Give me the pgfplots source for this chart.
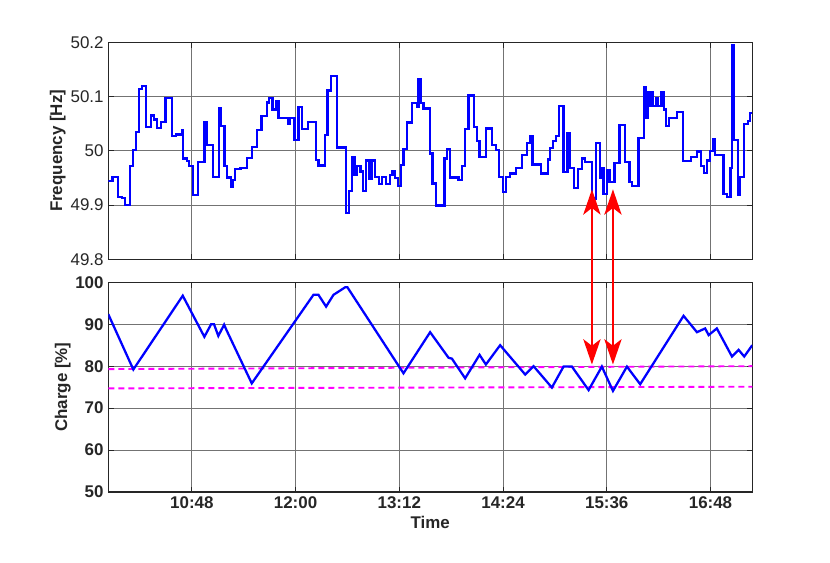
\documentclass[border=0pt]{standalone}
\usepackage{fontspec}
\setmainfont{Liberation Sans}
\usepackage{pgfplots}
\pgfplotsset{compat=1.18}
\usetikzlibrary{arrows.meta}

\definecolor{axgray}{gray}{0.15}
\definecolor{lineblue}{RGB}{0,0,255}
\definecolor{limitmag}{RGB}{255,0,255}
\definecolor{arrowred}{RGB}{255,0,0}
\newcommand\figfont{\fontsize{12.7}{15}\selectfont}

% frequency, minutes after midnight vs Hz
\pgfplotstableread{
t f
590.0 49.945
592.9 49.952
596.6 49.915
599.4 49.913
601.7 49.900
605.2 49.972
607.2 50.001
609.3 50.035
611.2 50.114
613.3 50.120
616.0 50.044
619.5 50.065
621.8 50.058
623.7 50.042
626.7 50.053
629.7 50.098
634.3 50.028
637.1 50.030
641.3 50.039
642.0 49.986
644.7 49.981
645.9 49.972
648.7 49.918
652.4 49.980
656.8 50.053
658.2 50.011
662.5 49.952
666.7 50.078
668.3 50.046
670.6 49.972
672.5 49.951
675.0 49.934
676.2 49.946
678.0 49.966
681.8 49.968
686.4 49.987
689.6 50.007
693.1 50.039
696.3 50.064
700.1 50.089
701.7 50.098
704.0 50.076
706.3 50.092
708.2 50.060
714.6 50.050
716.3 50.060
719.3 50.020
722.0 50.081
724.4 50.040
728.5 50.053
734.3 49.983
735.9 49.973
740.6 50.029
742.2 50.111
744.7 50.138
748.7 50.006
755.1 49.885
757.2 49.926
759.1 49.988
760.9 49.955
762.8 49.972
765.1 49.962
766.7 49.926
769.0 49.982
771.3 49.949
773.0 49.982
775.3 49.952
778.0 49.939
779.9 49.952
782.7 49.939
785.7 49.955
787.3 49.963
789.1 49.950
791.0 49.935
793.1 49.974
794.9 50.004
797.2 50.052
800.7 50.088
804.2 50.081
805.3 50.132
807.2 50.088
808.8 50.078
813.4 49.995
815.1 49.940
817.4 49.899
823.4 49.986
825.0 50.003
827.4 49.951
833.1 49.946
835.5 49.972
837.8 50.040
840.1 50.102
844.0 50.044
845.9 50.018
847.7 49.989
852.1 50.041
856.3 50.011
859.3 50.001
861.4 49.952
863.9 49.924
866.2 49.952
869.0 49.958
872.9 49.969
877.1 49.993
880.6 50.014
882.9 50.027
884.5 49.975
890.5 49.958
895.2 49.984
896.8 50.005
898.6 50.018
900.9 50.027
902.6 50.082
906.0 49.961
908.8 50.033
910.7 49.969
913.4 49.932
915.8 49.966
918.8 49.986
921.1 49.980
925.7 49.912
928.7 50.014
931.5 49.950
932.6 49.969
933.8 49.920
936.1 49.964
937.9 49.943
941.4 49.977
944.9 50.047
948.8 49.980
951.8 49.943
953.4 49.935
958.1 50.023
962.0 50.118
963.4 50.060
964.6 50.109
965.8 50.083
966.5 50.109
968.1 50.082
970.2 50.098
971.5 50.083
973.9 50.108
975.5 50.076
977.3 50.046
979.0 50.060
984.7 50.072
988.7 49.981
994.7 49.989
998.6 49.999
1001.6 49.972
1003.3 49.959
1005.6 49.982
1007.9 50.000
1009.5 50.021
1011.3 49.992
1017.1 49.920
1019.4 49.915
1021.8 49.968
1022.9 50.195
1024.5 50.020
1026.9 49.918
1028.7 49.952
1031.0 50.050
1034.0 50.055
1035.6 50.070
1037.0 50.070
}\freqdata

% state of charge, turning points
\pgfplotstableread{
t c
590.0 92.4
607.4 79.2
641.7 96.8
656.7 87.0
661.4 90.0
663.4 90.0
666.4 87.2
670.4 89.9
672.2 88.5
689.6 75.9
732.4 97.0
735.9 97.0
741.2 94.2
746.3 97.0
754.4 98.8
756.0 98.8
794.9 78.3
813.4 88.1
826.2 82.0
828.5 81.8
837.7 77.1
847.7 82.7
852.1 80.4
862.0 85.0
879.4 78.0
885.2 80.0
897.9 74.9
906.0 79.9
911.8 79.9
923.4 74.3
932.6 79.9
940.3 74.1
950.0 79.9
959.2 75.7
989.3 92.0
998.6 88.1
1004.3 89.0
1006.7 87.4
1012.4 89.0
1022.9 82.3
1027.5 83.9
1031.4 82.3
1037.0 85.0
}\chargedata

\pgfplotsset{
  panel/.style={
    scale only axis,
    width=483pt,
    xmin=590, xmax=1037,
    xtick={648,720,792,864,936,1008},
    grid=major,
    major grid style={black!55, line width=0.6pt},
    axis line style={axgray, line width=0.8pt},
    tick style={axgray, line width=0.6pt},
    tick align=inside,
    major tick length=4pt,
    every tick label/.append style={text=axgray},
    /pgf/number format/assume math mode=true,
    scaled y ticks=false,
    label style={font=\figfont\bfseries, text=axgray},
  },
}

\begin{document}
\begin{tikzpicture}
\path[use as bounding box] (0,0) rectangle (622.5pt,421.5pt);

\begin{axis}[panel,
  at={(81.2pt,227.0pt)}, anchor=south west,
  height=162.75pt,
  ymin=49.8, ymax=50.2,
  ytick={49.8,49.9,50,50.1,50.2},
  xticklabels={},
  tick label style={font=\figfont},
  ylabel={Frequency [Hz]},
  ylabel style={at={(axis description cs:-0.0785,0.5)}, anchor=center},
]
\addplot[lineblue, line width=1.7pt, const plot] table[x=t, y=f] {\freqdata};
\coordinate (a1t) at (axis cs:925.7,49.929);
\coordinate (a2t) at (axis cs:940.3,49.929);
\end{axis}

\begin{axis}[panel,
  at={(81.2pt,52.5pt)}, anchor=south west,
  height=157.3pt,
  ymin=50, ymax=100,
  ytick={50,60,70,80,90,100},
  xticklabels={10:48,12:00,13:12,14:24,15:36,16:48},
  tick label style={font=\figfont\bfseries},
  xlabel={Time},
  xlabel style={at={(axis description cs:0.5,-0.145)}, anchor=center},
  ylabel={Charge [\%]},
  ylabel style={at={(axis description cs:-0.0705,0.5)}, anchor=center},
]
\addplot[limitmag, line width=1.4pt, dash pattern=on 4.5pt off 3pt] coordinates {(590,79.3) (1037,80.0)};
\addplot[limitmag, line width=1.4pt, dash pattern=on 4.5pt off 3pt] coordinates {(590,74.7) (1037,75.1)};
\addplot[lineblue, line width=1.7pt] table[x=t, y=c] {\chargedata};
\coordinate (a1b) at (axis cs:925.7,80.4);
\coordinate (a2b) at (axis cs:940.3,80.4);
\end{axis}

\draw[arrowred, line width=1.3pt, {Stealth[length=19pt, width=13pt, inset=5pt]}-{Stealth[length=19pt, width=13pt, inset=5pt]}] (a1t) -- (a1b);
\draw[arrowred, line width=1.3pt, {Stealth[length=19pt, width=13pt, inset=5pt]}-{Stealth[length=19pt, width=13pt, inset=5pt]}] (a2t) -- (a2b);
\end{tikzpicture}
\end{document}
